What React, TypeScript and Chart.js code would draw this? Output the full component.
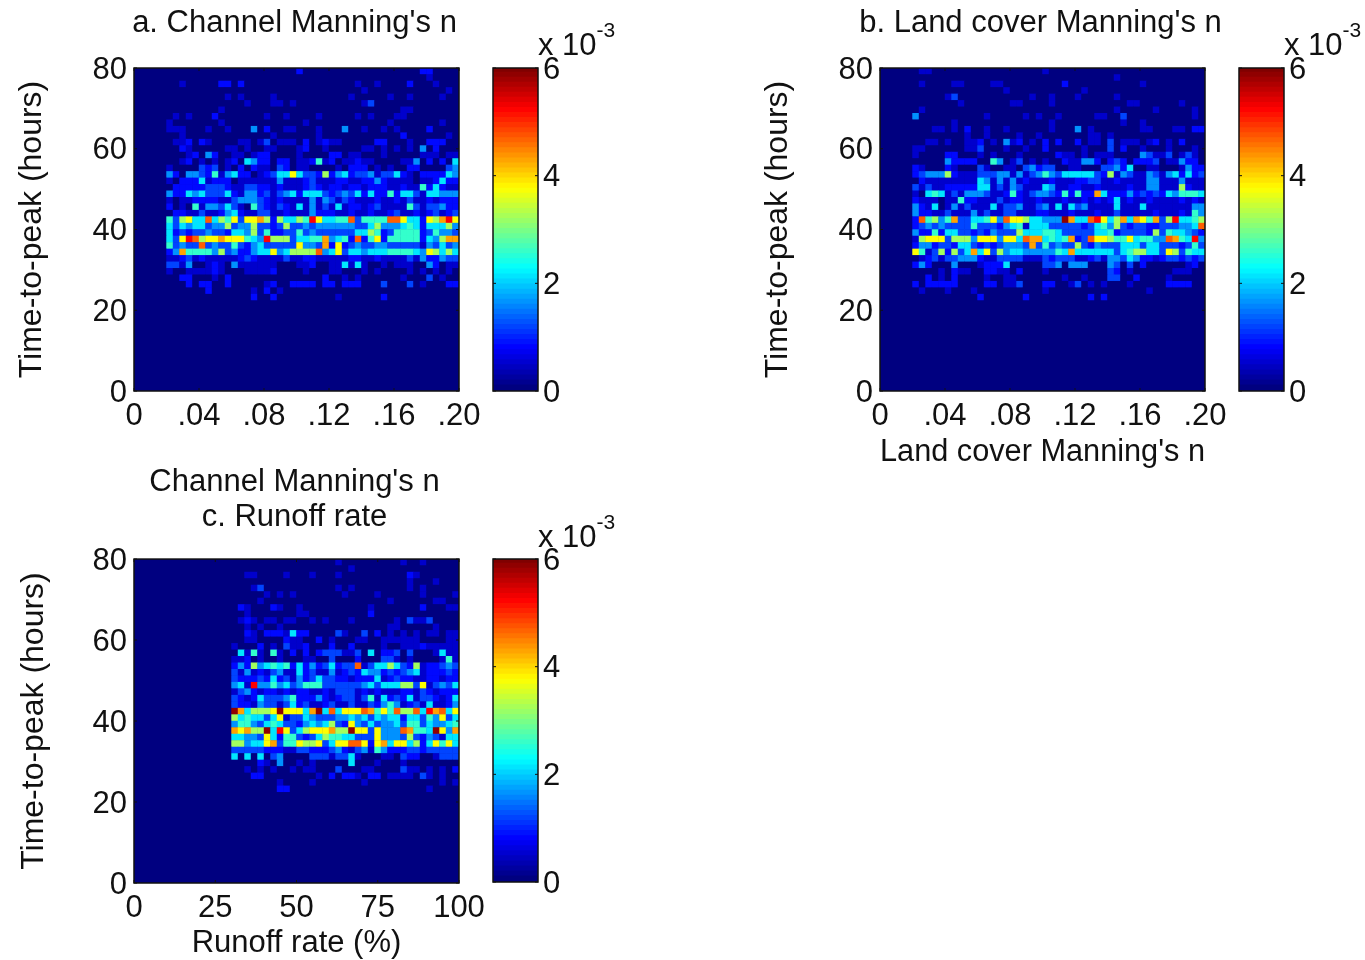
import React, { useEffect, useRef } from "react";
import { Chart, registerables } from "chart.js";

Chart.register(...registerables);

const LEVEL_CODES = "0123456789abc";
const LEVEL_VALUES = [0, 0.45, 0.8, 1.15, 1.6, 2.1, 2.55, 3.2, 3.75, 4.3, 4.7, 5.25, 5.9];

const ROWS_A = [
  "0000000000 0000000000 0000020000 0000000000 0000220000",
  "0000000000 0000000000 0000000000 0000000000 0000010000",
  "0000000100 0002202000 0000000000 0000100100 0020001000",
  "0000000000 0000000000 0000000000 0000010000 0000000010",
  "0000000000 0000101000 0100000000 0001000001 0010000100",
  "0000000000 0000000100 0110100000 0000013000 0000000000",
  "0000000000 0001000000 0000000000 0000000000 0110000000",
  "0000001010 0020000000 1001000010 0000101000 1100000000",
  "0000010000 0001000000 0000001000 0000000001 0000000100",
  "0000011100 0100100040 2001100010 0040010010 1000020000",
  "0000000100 0000000000 0100000010 0000000000 0200000010",
  "0000001120 2100001101 3011102012 1100000220 0010022200",
  "0000000210 0000110100 1100012001 0000011010 1010402000",
  "0000000012 0420011012 2000010000 2201100010 0000111011",
  "0000000120 1010120542 2022011261 2011211000 0114020205",
  "0000010000 3230102021 1032011000 0102220101 0022000034",
  "0000042044 3261452201 2355853327 2452334133 5210222254",
  "0000010222 5122201111 1141112311 1221122421 1110112522",
  "0000002222 2333211332 2121112321 2212212221 1211625211",
  "0000042254 5333521442 3134525553 2343525226 2553155444",
  "0000010112 2221134443 2121111414 3132111211 2131121222",
  "0000020106 1443531063 2132151413 1512212311 1163133422",
  "0000002211 3112452113 3112111422 2112112112 3112123123",
  "0000063785 5a57683889 7275576b85 566a36666a a8552879b8",
  "0000053545 5344734473 3237334344 4444335744 4565255574",
  "0000052323 3433255473 6223363433 3333557623 6666236443",
  "00000538ba 7889888654 b777355669 4562a26826 6666254799",
  "0000063433 a343363245 3333384439 2823433443 3333143534",
  "0000024966 6647342245 58457777a4 5835545556 6665487575",
  "0000011231 2111112321 1113112211 1112211211 1131422433",
  "0000033140 0121041111 1100011200 1151510010 1110042011",
  "0000010011 1121000111 1200001000 1100010100 0010101010",
  "0000000220 0010200000 0000000002 0010100000 0100030100",
  "0000000020 2200200000 1200222202 2022200030 0030100022",
  "0000000000 0200000010 2010000000 0000000000 0000000000",
  "0000000000 0000000020 0200000000 0100000020 0000000000",
];

const ROWS_B = [
  "0000001100 0000000000 0000010000 0000000000 0000000000",
  "0000000000 0000000000 0000000000 0000001000 0000000000",
  "0000001000 0110000110 0000000020 0000000000 1000000000",
  "0000000000 0000000001 0000000000 0100000000 0000000000",
  "0000000000 1300000000 0001001000 1000001000 0000000000",
  "0000000000 0010000000 1100001000 0000000011 0000001000",
  "0000001000 0000000000 0000000000 0000001000 0010000010",
  "0000040000 0000001000 0010100100 0001100300 0000000010",
  "0000000000 0100000000 0000001000 0000000100 1000000000",
  "0000000011 0102001001 0000001000 4010000000 1100011022",
  "0000000000 0001001000 0100100000 0011010000 0000000000",
  "0000000110 1001120104 1201020200 2011030111 0120102000",
  "0000011000 0001130001 0010020000 0100030200 1000100010",
  "0000010000 2200010100 0100000211 0101110000 4311301310",
  "0000000000 4222200640 1301010021 1442023202 2230114220",
  "0000021000 2100031001 1034233001 1000334250 0110001422",
  "0000023444 7211133344 1413464355 5553271431 1431452523",
  "0000002111 1111154141 4121112111 2233112111 1441114111",
  "0000031311 2222255131 4311154112 2112111121 1441117211",
  "0000010565 1314443112 6213443262 6229522242 3232546665",
  "0000021110 1162211131 2211211121 1212125121 1211112121",
  "0000042150 1413111513 3411341515 3411115111 5111111144",
  "0000042211 3111413113 3111221112 1112113111 1121112164",
  "000002a674 693355684a 88755444c9 55ab857959 86937b5567",
  "0000023434 3333633324 5615553333 3235647323 322333445a",
  "0000042262 5533232433 3755566533 3335562333 3273655432",
  "0000017888 3777488848 85a9956569 23a8876685 6644a965b4",
  "0000024423 3255323234 4439363433 7324333555 3553332363",
  "0000086137 2735958374 5544444659 5555553567 7553873655",
  "0000001231 3344421133 3311132333 1123144354 2212332323",
  "0000024200 0400012225 0000033404 4400043030 2000000120",
  "0000000001 0211002211 0200010000 0000032010 0000011100",
  "0000000201 0200001001 1000000010 0100033002 0000100000",
  "0000020222 2200002201 1300022001 3010100010 0000222200",
  "0000001000 1000100000 0000010000 0000000000 0100000000",
  "0000000000 0000020000 0020000000 0020200000 0000000000",
];

const ROWS_C = [
  "0000000000 0000000000 0000000000 0100000000 0100100000",
  "0000000000 0000000000 0000000000 0001000000 0000000000",
  "0000000000 0000000110 0001000100 0100000000 0021000000",
  "0000000000 0000000000 0000000000 0000000000 0010001000",
  "0000000000 0000000013 0000000000 0101000000 0010100000",
  "0000000000 0000000000 1010100000 0010000100 0000100001",
  "0000000000 0000000001 0000000000 0000000001 0000001100",
  "0000000000 0000002100 0210010000 0000001000 0000200011",
  "0000000000 0000000100 0000011000 0000002000 0000000000",
  "0000000000 0000001210 1101100101 0001000000 1031130000",
  "0000000000 0000000101 0010000000 0000000001 1000001000",
  "0000000000 0000000210 2221522000 0310030201 0101011011",
  "0000000000 0000000110 0002110020 1000110011 1111000011",
  "0000000000 0000010002 0103112000 2002000010 0111211111",
  "0000000000 0000005161 0610202023 3311305022 3030001511",
  "0000000000 0000011201 0010001100 3000200033 1010000161",
  "0000000000 0000024274 5656252423 5233a13557 5327122343",
  "0000000000 0000031412 1341152311 4123254423 2345122232",
  "0000000000 0000032223 2523142353 3221222512 3221122122",
  "0000000000 00000451b4 4645346663 3333345355 5773813435",
  "0000000000 0000013421 2212122112 1333121211 1221321222",
  "0000000000 0000032125 3334622242 1233136152 3251332125",
  "0000000000 0000032214 3313523112 3113113246 4123151124",
  "0000000000 00000c9577 78c88859c5 a5888a9686 a77a5b9a58",
  "0000000000 0000075655 3581335433 3445453545 5255364835",
  "0000000000 0000046643 5653324545 7328435344 5366354456",
  "0000000000 0000098977 c5b8357888 977c883844 4a9665c849",
  "0000000000 0000055443 8526632357 6655333844 4373243155",
  "0000000000 0000077455 8936687783 588aa82895 8857258685",
  "0000000000 0000033333 2221133222 3421341642 2233233333",
  "0000000000 0000050505 0340000333 1335100011 0322001333",
  "0000000000 0000000002 1040010100 0005000100 0100000000",
  "0000000000 0000000101 0100101100 0300011000 0311010102",
  "0000000000 0000000022 0000000010 2022102201 1110310100",
  "0000000000 0000000000 0010000100 0000010000 0000000101",
  "0000000000 0000000000 0022000000 0000000000 0000010000",
];

const N_CELLS = 50;
const Y_TICK_LABELS = ["0", "20", "40", "60", "80"];
const X_LABELS_N = ["0", ".04", ".08", ".12", ".16", ".20"];
const X_LABELS_RATE = ["0", "25", "50", "75", "100"];
const COLORBAR_TICKS = ["0", "2", "4", "6"];
const FONT_FAMILY = '"Liberation Sans", Arial, sans-serif';
const FONT_SIZE = 31;
const VMAX = 6;

function jet(t: number) {
  const c = (v: number) => Math.round(255 * Math.max(0, Math.min(1, v)));
  const r = c(Math.min(4 * t - 1.5, -4 * t + 4.5));
  const g = c(Math.min(4 * t - 0.5, -4 * t + 3.5));
  const b = c(Math.min(4 * t + 0.5, -4 * t + 2.5));
  return `rgb(${r},${g},${b})`;
}

function decode(rows: string[]) {
  const out: number[][] = [];
  for (let r = 0; r < N_CELLS; r++) {
    const text = (rows[r] || "").replace(/ /g, "").padEnd(N_CELLS, "0");
    out.push(text.split("").map((ch) => LEVEL_VALUES[LEVEL_CODES.indexOf(ch)]));
  }
  return out;
}

const basePlugin = {
  id: "base",
  beforeDatasetsDraw(chart: any) {
    const { ctx, chartArea: a } = chart;
    ctx.save();
    ctx.fillStyle = jet(0);
    ctx.fillRect(a.left, a.top, a.right - a.left, a.bottom - a.top);
    ctx.restore();
  },
};

const framePlugin = {
  id: "frame",
  afterDatasetsDraw(chart: any) {
    const { ctx, chartArea: a, scales } = chart;
    ctx.save();
    ctx.strokeStyle = "#111";
    ctx.lineWidth = 1;
    ctx.beginPath();
    const t = 3;
    const xs = scales.x.options.display === false ? [] : scales.x.ticks;
    for (const k of xs) {
      const p = scales.x.getPixelForValue(k.value);
      ctx.moveTo(p, a.bottom);
      ctx.lineTo(p, a.bottom - t);
      ctx.moveTo(p, a.top);
      ctx.lineTo(p, a.top + t);
    }
    for (const k of scales.y.ticks) {
      const p = scales.y.getPixelForValue(k.value);
      ctx.moveTo(a.left, p);
      ctx.lineTo(a.left + t, p);
      ctx.moveTo(a.right, p);
      ctx.lineTo(a.right - t, p);
    }
    ctx.stroke();
    ctx.lineWidth = 1.5;
    ctx.strokeRect(a.left, a.top, a.right - a.left, a.bottom - a.top);
    ctx.restore();
  },
};

type PanelProps = {
  left: number;
  top: number;
  height: number;
  rows: string[];
  xMax: number;
  xStep: number;
  xLabels: string[];
  title: string | string[];
  titleTop: number;
  titleBottom: number;
  xTitle?: string;
  xTitlePad: number;
  axisHeight: number;
  yTitlePad: number;
};

const PANEL_WIDTH = 589;

function Panel(p: PanelProps) {
  const ref = useRef<HTMLCanvasElement>(null);
  useEffect(() => {
    const grid = decode(p.rows);
    const data: { x: number; y: number }[] = [];
    const colors: string[] = [];
    grid.forEach((row, r) =>
      row.forEach((v, c) => {
        data.push({ x: ((c + 0.5) / N_CELLS) * p.xMax, y: 80 - ((r + 0.5) / N_CELLS) * 80 });
        colors.push(jet(v / VMAX));
      })
    );
    const font = { family: FONT_FAMILY, size: FONT_SIZE, weight: "normal" };
    const chart = new Chart(ref.current as HTMLCanvasElement, {
      type: "scatter",
      data: {
        datasets: [
          {
            data,
            pointStyle: "rect",
            pointRadius: 4.9,
            pointBorderWidth: 0,
            pointBackgroundColor: colors,
            showLine: false,
          },
        ],
      },
      options: {
        responsive: false,
        animation: false,
        events: [],
        layout: { padding: { top: p.titleTop, left: 0, right: 0, bottom: 0 } },
        plugins: {
          legend: { display: false },
          tooltip: { enabled: false },
          title: {
            display: true,
            text: p.title,
            color: "#111",
            fullSize: true,
            font: { ...font, lineHeight: 1.13 },
            padding: { top: 0, bottom: p.titleBottom },
          },
        },
        scales: {
          x: {
            type: "linear",
            min: 0,
            max: p.xMax,
            afterFit: (s: any) => {
              s.height = p.axisHeight;
            },
            ticks: {
              stepSize: p.xStep,
              autoSkip: false,
              maxRotation: 0,
              color: "#111",
              padding: 7,
              font,
              callback: (_v: any, i: number) => p.xLabels[i],
            },
            grid: { display: false, drawTicks: false },
            border: { display: false },
            title: {
              display: !!p.xTitle,
              text: p.xTitle || "",
              color: "#111",
              font: { ...font, lineHeight: 1 },
              padding: { top: 0, bottom: p.xTitlePad },
            },
          },
          y: {
            type: "linear",
            min: 0,
            max: 80,
            afterFit: (s: any) => {
              s.width = 134;
            },
            ticks: {
              stepSize: 20,
              autoSkip: false,
              color: "#111",
              padding: 7,
              labelOffset: 2,
              font,
              callback: (_v: any, i: number) => Y_TICK_LABELS[i],
            },
            grid: { display: false, drawTicks: false },
            border: { display: false },
            title: {
              display: true,
              text: "Time-to-peak (hours)",
              color: "#111",
              font: { ...font, size: 32, lineHeight: 1.2 },
              padding: { top: p.yTitlePad, bottom: 0 },
            },
          },
          spacer: {
            type: "linear",
            position: "right",
            min: 0,
            max: 80,
            afterFit: (s: any) => {
              s.width = PANEL_WIDTH - 459;
            },
            ticks: { display: false },
            grid: { display: false, drawTicks: false },
            border: { display: false },
          },
        },
      },
      plugins: [basePlugin, framePlugin],
    } as any);
    return () => chart.destroy();
  }, []);
  return (
    <canvas
      ref={ref}
      width={PANEL_WIDTH}
      height={p.height}
      style={{ position: "absolute", left: p.left, top: p.top, width: PANEL_WIDTH, height: p.height }}
    />
  );
}

function ColorBar({ left, top }: { left: number; top: number }) {
  const ref = useRef<HTMLCanvasElement>(null);
  useEffect(() => {
    const levels = 64;
    const datasets = [];
    for (let i = 0; i < levels; i++) {
      const lo = (i / levels) * VMAX;
      const hi = Math.min(VMAX, ((i + 1) / levels) * VMAX + 0.02);
      datasets.push({
        data: [[lo, hi]],
        backgroundColor: jet(i / (levels - 1)),
        borderWidth: 0,
        barPercentage: 1,
        categoryPercentage: 1,
        grouped: false,
      });
    }
    const chart = new Chart(ref.current as HTMLCanvasElement, {
      type: "bar",
      data: { labels: [""], datasets },
      options: {
        responsive: false,
        animation: false,
        events: [],
        layout: { padding: { top: 48, left: 13, right: 0, bottom: 59 } },
        plugins: { legend: { display: false }, tooltip: { enabled: false } },
        scales: {
          x: { display: false },
          y: {
            type: "linear",
            position: "right",
            min: 0,
            max: VMAX,
            afterFit: (s: any) => {
              s.width = 82;
            },
            ticks: {
              stepSize: 2,
              color: "#111",
              padding: 5,
              labelOffset: 2,
              font: { family: FONT_FAMILY, size: FONT_SIZE },
              callback: (_v: any, i: number) => COLORBAR_TICKS[i],
            },
            grid: { display: false, drawTicks: false },
            border: { display: false },
          },
        },
      },
      plugins: [framePlugin],
    } as any);
    return () => chart.destroy();
  }, []);
  return (
    <canvas
      ref={ref}
      width={140}
      height={430}
      style={{ position: "absolute", left, top, width: 140, height: 430 }}
    />
  );
}

function Exponent({ left, top }: { left: number; top: number }) {
  return (
    <div
      style={{
        position: "absolute",
        left,
        top,
        fontFamily: FONT_FAMILY,
        fontSize: FONT_SIZE,
        lineHeight: "36px",
        color: "#111",
        whiteSpace: "nowrap",
      }}
    >
      x 10
      <span style={{ fontSize: 21, position: "relative", top: -18 }}>-3</span>
    </div>
  );
}

export default function App() {
  return (
    <div
      style={{
        position: "absolute",
        left: 0,
        top: 0,
        width: 1365,
        height: 960,
        overflow: "hidden",
        background: "#fff",
      }}
    >
      <Panel
        left={0}
        top={0}
        height={470}
        rows={ROWS_A}
        xMax={0.2}
        xStep={0.04}
        xLabels={X_LABELS_N}
        title="a. Channel Manning's n"
        titleTop={6}
        titleBottom={27}
        xTitlePad={2}
        axisHeight={79}
        yTitlePad={13}
      />
      <Panel
        left={746}
        top={0}
        height={470}
        rows={ROWS_B}
        xMax={0.2}
        xStep={0.04}
        xLabels={X_LABELS_N}
        title="b. Land cover Manning's n"
        titleTop={6}
        titleBottom={27}
        xTitle="Land cover Manning's n"
        xTitlePad={2}
        axisHeight={79}
        yTitlePad={13}
      />
      <Panel
        left={0}
        top={460}
        height={500}
        rows={ROWS_C}
        xMax={100}
        xStep={25}
        xLabels={X_LABELS_RATE}
        title={["Channel Manning's n", "c. Runoff rate"]}
        titleTop={5}
        titleBottom={24}
        xTitle="Runoff rate (%)"
        xTitlePad={1}
        axisHeight={77}
        yTitlePad={15}
      />
      <ColorBar left={480} top={20} />
      <ColorBar left={1226} top={20} />
      <ColorBar left={480} top={511} />
      <Exponent left={538} top={27} />
      <Exponent left={1284} top={27} />
      <Exponent left={538} top={519} />
    </div>
  );
}
